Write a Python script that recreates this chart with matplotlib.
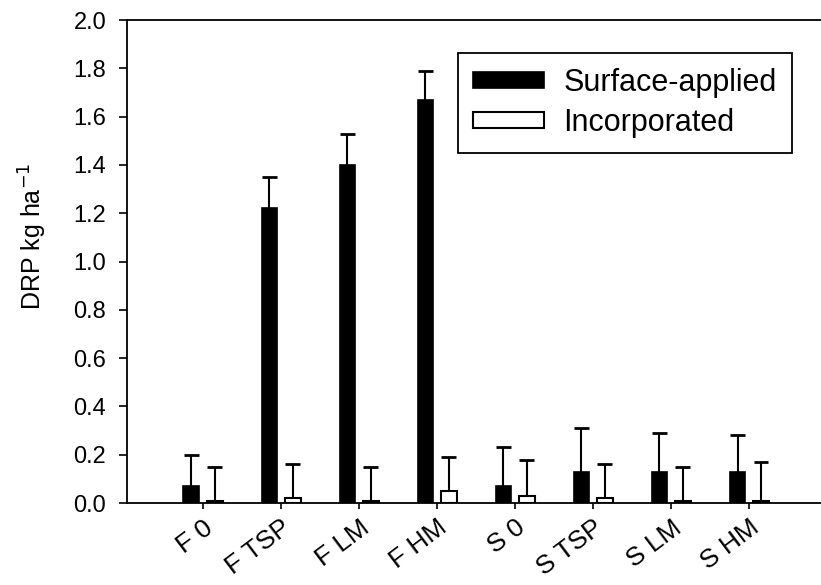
import matplotlib
matplotlib.use("Agg")
import matplotlib.pyplot as plt
import numpy as np

plt.rcParams['font.family'] = ['Liberation Sans', 'DejaVu Sans']

categories = ["F 0", "F TSP", "F LM", "F HM", "S 0", "S TSP", "S LM", "S HM"]
surface = [0.07, 1.22, 1.40, 1.67, 0.07, 0.13, 0.13, 0.13]
surface_err = [0.13, 0.13, 0.13, 0.12, 0.16, 0.18, 0.16, 0.15]
incorporated = [0.01, 0.02, 0.01, 0.05, 0.03, 0.02, 0.01, 0.01]
incorporated_err = [0.14, 0.14, 0.14, 0.14, 0.15, 0.14, 0.14, 0.16]
yticks = [0.0, 0.2, 0.4, 0.6, 0.8, 1.0, 1.2, 1.4, 1.6, 1.8, 2.0]

fig = plt.figure(figsize=(8.21, 5.85), dpi=100)
ax = fig.add_axes([127/821, 1 - 503/585, 1 - 127/821, (503 - 20)/585])

x = np.arange(len(categories))
w = 0.2
off = 0.15
cap = 0.095


def upper_err(xpos, vals, errs):
    vals = np.asarray(vals)
    tops = vals + np.asarray(errs)
    ax.vlines(xpos, vals, tops, colors='black', linewidth=1.5, zorder=3)
    ax.hlines(tops, xpos - cap, xpos + cap, colors='black', linewidth=2.0, zorder=3)


ax.bar(x - off, surface, w, color='black', edgecolor='black', linewidth=1.2,
       label='Surface-applied', zorder=2)
ax.bar(x + off, incorporated, w, color='white', edgecolor='black', linewidth=1.5,
       label='Incorporated', zorder=2)
upper_err(x - off, surface, surface_err)
upper_err(x + off, incorporated, incorporated_err)

ax.set_xlim(-0.974, 7.92)
ax.set_ylim(0, 2.0)
ax.set_yticks(yticks)
ax.set_yticklabels([f"{v:.1f}" for v in yticks])
ax.set_xticks(x)
ax.set_xticklabels(categories, rotation=37, ha='right', rotation_mode='anchor')

ax.tick_params(axis='y', direction='out', length=6, width=1.2, labelsize=17, pad=9)
ax.tick_params(axis='x', direction='out', length=4, width=1.2, labelsize=19, pad=5)
ax.spines['right'].set_visible(False)
for s in ['left', 'top', 'bottom']:
    ax.spines[s].set_linewidth(1.3)

ax.set_ylabel("DRP kg ha$^{-1}$", fontsize=18)
ax.yaxis.set_label_coords(-0.112, 0.553)

leg = ax.legend(loc='upper left', bbox_to_anchor=(0.477, 0.932), fontsize=22,
                frameon=True, fancybox=False, edgecolor='black', framealpha=1,
                handlelength=2.3, handleheight=0.43, handletextpad=0.65,
                borderpad=0.5, labelspacing=0.32, borderaxespad=0)
leg.get_frame().set_linewidth(1.3)

fig.savefig("out.png", dpi=100)
